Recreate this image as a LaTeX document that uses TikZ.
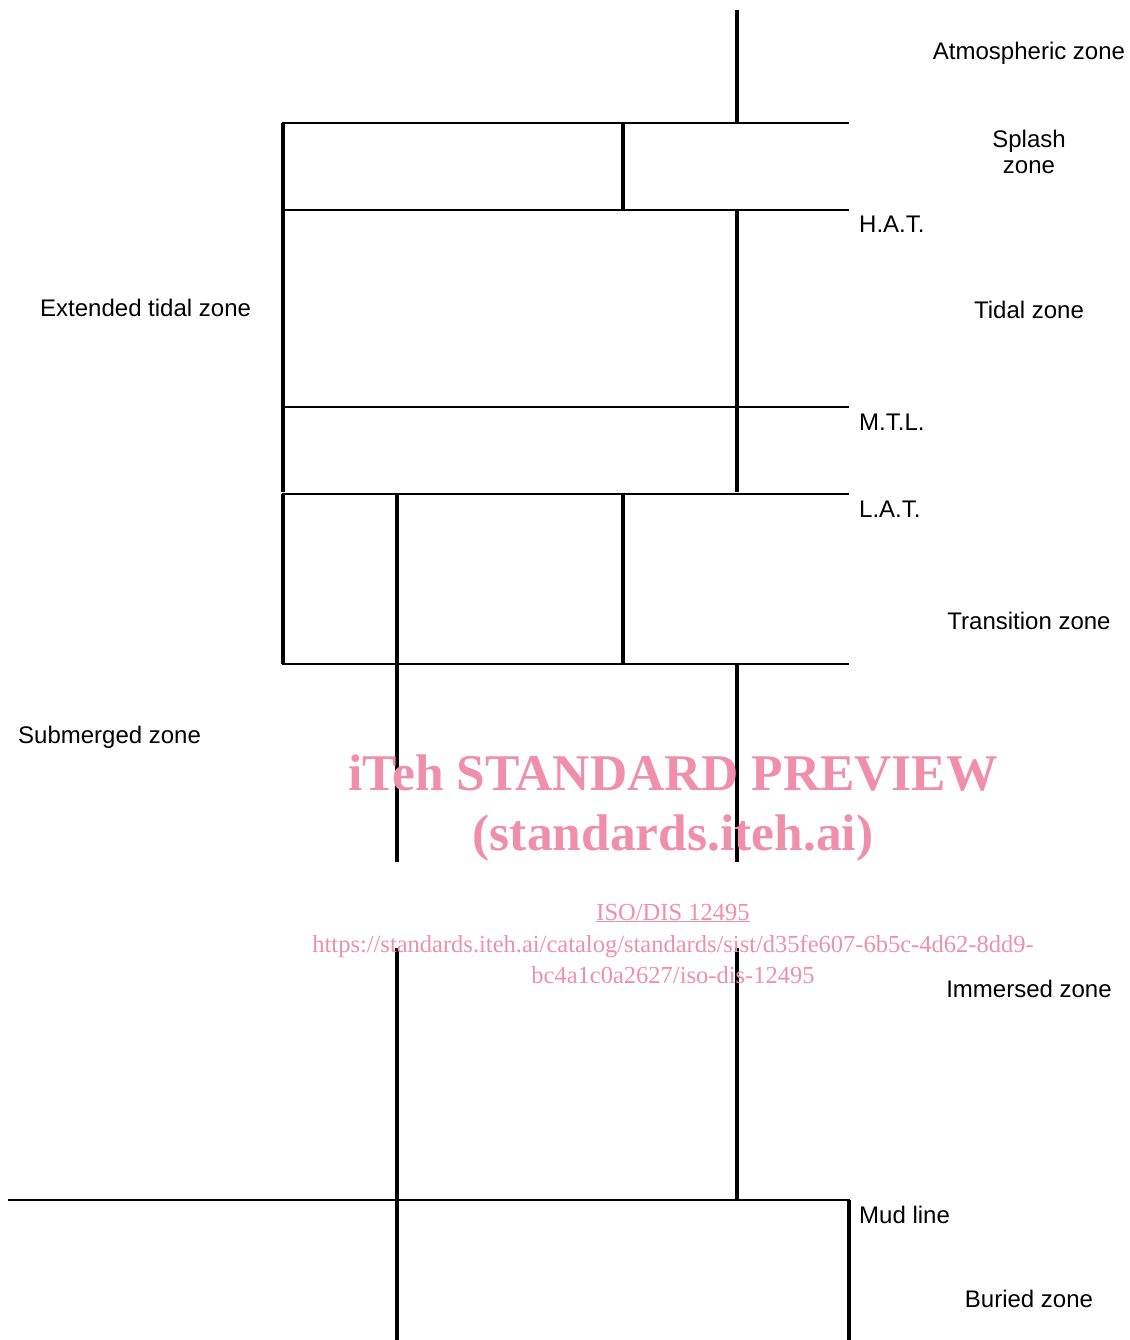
\documentclass[tikz,border=0pt]{standalone}
\usepackage{fontspec}
\setmainfont{Liberation Sans}
\newfontfamily\wmfont{Liberation Serif}
\definecolor{wmpink}{RGB}{239,143,171}
\begin{document}
\begin{tikzpicture}[x=1pt,y=-1pt,
  vline/.style={line width=3.4pt},
  hline/.style={line width=2.2pt},
  lbl/.style={inner sep=0pt,anchor=base,font=\fontsize{24}{27}\selectfont},
  lblw/.style={lbl,anchor=base west},
  wm/.style={inner sep=0pt,anchor=base,text=wmpink}]
\useasboundingbox (0,0) rectangle (1129,1340);
% horizontal levels
\draw[hline] (282,123) -- (849,123);
\draw[hline] (282,210) -- (849,210);
\draw[hline] (282,407) -- (849,407);
\draw[hline] (282,494) -- (849,494);
\draw[hline] (282,664) -- (849,664);
\draw[hline] (8,1200) -- (850,1200);
% verticals
\draw[vline] (737,10) -- (737,123);
\draw[vline] (283,123) -- (283,492);
\draw[vline] (283,494) -- (283,664);
\draw[vline] (623,123) -- (623,210);
\draw[vline] (737,210) -- (737,492);
\draw[vline] (397,494) -- (397,862);
\draw[vline] (623,494) -- (623,664);
\draw[vline] (737,664) -- (737,862);
\draw[vline] (397,948) -- (397,1340);
\draw[vline] (737,948) -- (737,1200);
\draw[vline] (849,1200) -- (849,1340);
% labels
\node[lbl] (atm) at (1029,60) {Atmospheric zone};
\node[lbl] (spl1) at (1029,148) {Splash};
\node[lbl] (spl2) at (1029,174) {zone};
\node[lblw] (hat) at (859,233) {H.A.T.};
\node[lbl] (tid) at (1029,318) {Tidal zone};
\node[lblw] (ext) at (40,316) {Extended tidal zone};
\node[lblw] (mtl) at (859,430) {M.T.L.};
\node[lblw] (lat) at (859,517) {L.A.T.};
\node[lbl] (tra) at (1029,629) {Transition zone};
\node[lblw] (sub) at (18,743) {Submerged zone};
\node[lbl] (imm) at (1029,997) {Immersed zone};
\node[lblw] (mud) at (859,1223) {Mud line};
\node[lbl] (bur) at (1029,1307) {Buried zone};
% watermark
\node[wm,font=\wmfont\bfseries\fontsize{51.5}{56}\selectfont] (wm1) at (673,790) {iTeh STANDARD PREVIEW};
\node[wm,font=\wmfont\bfseries\fontsize{51.5}{56}\selectfont] (wm2) at (673,850) {(standards.iteh.ai)};
\node[wm,font=\wmfont\fontsize{24.5}{28}\selectfont] (wm3) at (673,920) {\underline{ISO/DIS 12495}};
\node[wm,font=\wmfont\fontsize{24.5}{28}\selectfont] (wm4) at (673,952) {https://standards.iteh.ai/catalog/standards/sist/d35fe607-6b5c-4d62-8dd9-};
\node[wm,font=\wmfont\fontsize{24.5}{28}\selectfont] (wm5) at (673,983) {bc4a1c0a2627/iso-dis-12495};
\end{tikzpicture}
\end{document}
